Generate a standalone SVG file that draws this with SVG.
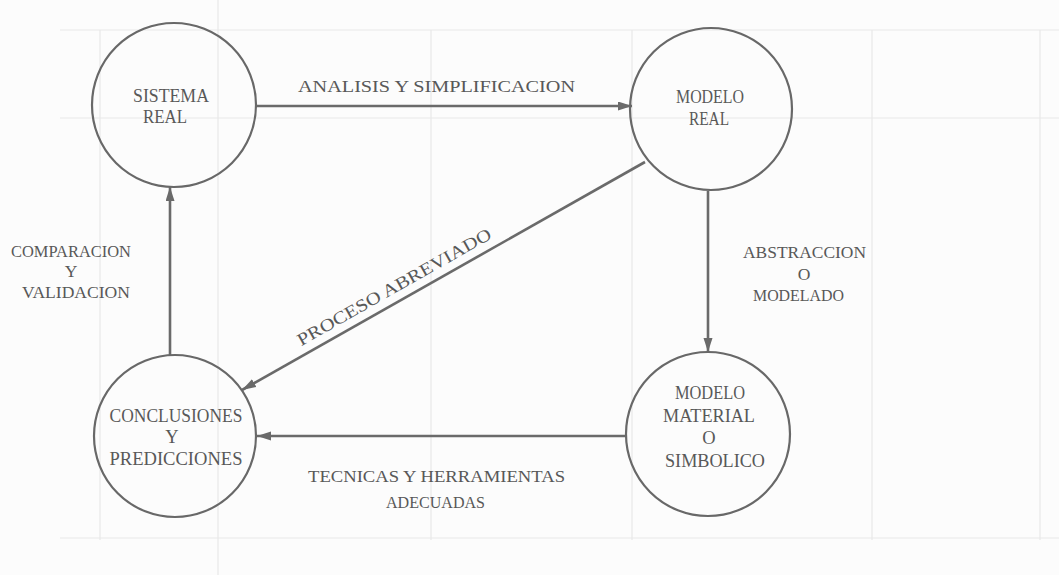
<svg xmlns="http://www.w3.org/2000/svg" width="1059" height="575" viewBox="0 0 1059 575">
  <style>
    .bg { fill: #fcfcfc; }
    .grid { stroke: #e8e8e8; stroke-width: 1.2; fill: none; }
    .node { fill: none; stroke: #686868; stroke-width: 2.2; }
    .edge { stroke: #6a6a6a; stroke-width: 2.6; fill: none; marker-end: url(#head); }
    text { font-family: "Liberation Serif", "DejaVu Serif", serif; fill: #585858; text-anchor: middle; }
    .nt { font-size: 18.5px; }
    .lt { font-size: 17.5px; }
  </style>
  <defs>
    <marker id="head" markerUnits="userSpaceOnUse" markerWidth="16" markerHeight="10" refX="14" refY="4.5" orient="auto">
      <path d="M0,0 L14,4.5 L0,9 Z" fill="#6a6a6a"/>
    </marker>
  </defs>

  <rect class="bg" x="0" y="0" width="1059" height="575"/>

  <!-- faint ruled lines of the page -->
  <g id="page-lines">
    <line class="grid" x1="100" y1="30" x2="100" y2="540"/>
    <line class="grid" x1="218" y1="0" x2="218" y2="575"/>
    <line class="grid" x1="431" y1="30" x2="431" y2="540"/>
    <line class="grid" x1="632" y1="30" x2="632" y2="540"/>
    <line class="grid" x1="872" y1="30" x2="872" y2="540"/>
    <line class="grid" x1="1040" y1="30" x2="1040" y2="540"/>
    <line class="grid" x1="60" y1="30" x2="1059" y2="30"/>
    <line class="grid" x1="60" y1="118" x2="1059" y2="118"/>
    <line class="grid" x1="60" y1="538" x2="1059" y2="538"/>
  </g>

  <!-- connectors -->
  <g id="connectors">
    <line class="edge" x1="256" y1="106" x2="632" y2="106"/>
    <line class="edge" x1="708" y1="191" x2="708" y2="352"/>
    <line class="edge" x1="626" y1="436" x2="257" y2="436"/>
    <line class="edge" x1="170" y1="355" x2="170" y2="187"/>
    <line class="edge" x1="645" y1="162" x2="242" y2="390"/>

    <text class="lt" x="436.5" y="92" textLength="277" lengthAdjust="spacingAndGlyphs">ANALISIS Y SIMPLIFICACION</text>

    <text class="lt" x="804.5" y="258" textLength="123" lengthAdjust="spacingAndGlyphs">ABSTRACCION</text>
    <text class="lt" x="804" y="280">O</text>
    <text class="lt" x="798.5" y="301" textLength="91" lengthAdjust="spacingAndGlyphs">MODELADO</text>

    <text class="lt" x="436.5" y="482" textLength="257" lengthAdjust="spacingAndGlyphs">TECNICAS Y HERRAMIENTAS</text>
    <text class="lt" x="435.5" y="508" textLength="99" lengthAdjust="spacingAndGlyphs">ADECUADAS</text>

    <text class="lt" x="71" y="257" textLength="120" lengthAdjust="spacingAndGlyphs">COMPARACION</text>
    <text class="lt" x="71" y="277">Y</text>
    <text class="lt" x="76" y="298" textLength="108" lengthAdjust="spacingAndGlyphs">VALIDACION</text>

    <text class="lt" x="397" y="292" transform="rotate(-29.5 397 292)" textLength="220" lengthAdjust="spacingAndGlyphs">PROCESO ABREVIADO</text>
  </g>

  <!-- nodes -->
  <g id="sistema-real">
    <circle class="node" cx="174" cy="105" r="82"/>
    <text class="nt" x="171" y="102" textLength="76" lengthAdjust="spacingAndGlyphs">SISTEMA</text>
    <text class="nt" x="165" y="123" textLength="44" lengthAdjust="spacingAndGlyphs">REAL</text>
  </g>

  <g id="modelo-real">
    <circle class="node" cx="711" cy="109" r="81"/>
    <text class="nt" x="710" y="103" textLength="68" lengthAdjust="spacingAndGlyphs">MODELO</text>
    <text class="nt" x="709" y="125" textLength="40" lengthAdjust="spacingAndGlyphs">REAL</text>
  </g>

  <g id="conclusiones">
    <circle class="node" cx="175" cy="436" r="81"/>
    <text class="nt" x="176" y="422" textLength="133" lengthAdjust="spacingAndGlyphs">CONCLUSIONES</text>
    <text class="nt" x="172" y="443">Y</text>
    <text class="nt" x="176" y="465" textLength="133" lengthAdjust="spacingAndGlyphs">PREDICCIONES</text>
  </g>

  <g id="modelo-material">
    <circle class="node" cx="708" cy="434" r="82"/>
    <text class="nt" x="710" y="399" textLength="70" lengthAdjust="spacingAndGlyphs">MODELO</text>
    <text class="nt" x="709" y="422" textLength="92" lengthAdjust="spacingAndGlyphs">MATERIAL</text>
    <text class="nt" x="709" y="444">O</text>
    <text class="nt" x="715" y="467" textLength="100" lengthAdjust="spacingAndGlyphs">SIMBOLICO</text>
  </g>
</svg>
